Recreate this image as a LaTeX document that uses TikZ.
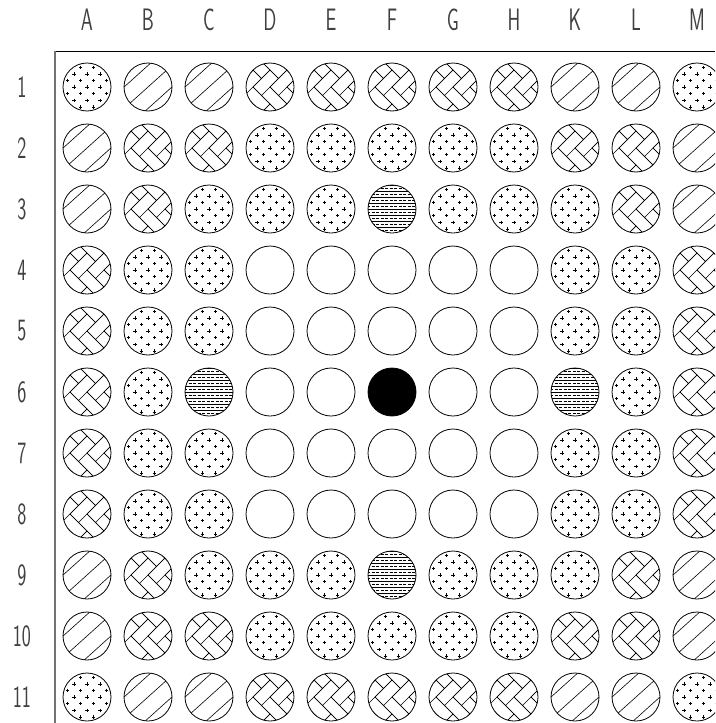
\documentclass[tikz,border=0pt]{standalone}
\usepackage{fontspec}
\usepackage{tikz}

% fill patterns, drawn round the cell centre
\newcommand\patO{}
\newcommand\patF{}
\newcommand\patP{%
	\foreach \m in {-2,0,2} \foreach \n in {-26,-13,0,13,26}
		\draw[line width=0.6pt] (\n-1.7,\m*6.6) -- ++(3.4,0) (\n,\m*6.6-1.7) -- ++(0,3.4);
	\foreach \m in {-3,-1,1,3} \foreach \n in {-19.5,-6.5,6.5,19.5}
		\draw[line width=0.6pt] (\n-1.7,\m*6.6) -- ++(3.4,0) (\n,\m*6.6-1.7) -- ++(0,3.4);}
\newcommand\patH{%
	\begin{scope}[rotate=42]
		\foreach \o in {-16,0,16} \draw[line width=0.6pt] (-30,\o) -- (30,\o);
	\end{scope}}
\newcommand\patW{%
	\begin{scope}[rotate=45, scale=12]
		\foreach \n in {-5,...,4} \foreach \m in {-2,...,2}
			\draw[line width=0.6pt] (\n+2*\m,\n-2*\m) rectangle ++(2,1) (\n+2*\m,\n-2*\m+1) rectangle ++(1,2);
	\end{scope}}
\newcommand\patS{%
	\foreach \k in {-8,-6,...,8} \draw[line width=0.5pt] (-25,3*\k) -- (25,3*\k);
	\foreach \k in {-7,-5,...,7} \draw[line width=0.5pt, dash pattern=on 3pt off 1.5pt] (-25,3*\k) -- (25,3*\k);}

\tikzset{
	lbl/.style={font=\sffamily\fontsize{31}{31}\selectfont, xscale=0.62, text=black!75, inner sep=0pt},
	cell/.style={circle, draw, line width=0.8pt, minimum size=48pt, inner sep=0pt},
	cell O/.style={},
	cell F/.style={fill=black},
	cell P/.style={}, cell H/.style={}, cell W/.style={}, cell S/.style={}
}

\begin{document}
\begin{tikzpicture}[x=1pt,y=-1pt]
	\useasboundingbox (0,0) rectangle (715,723);
	\clip (0,0) rectangle (715,723);
	
	\coordinate (corner) at (55,51);
	\coordinate (right) at (715,51);
	\coordinate (bottom) at (55,723);
	\draw[line width=0.8pt] (corner) -- (right);
	\draw[line width=1.6pt, black!55] (corner) -- (bottom);
	
	\foreach \c [count=\j] in {A,B,C,D,E,F,G,H,K,L,M}
		\node[lbl] (col-\c) at (26+61*\j,20) {\c};
	\foreach \r in {1,...,11}
		\node[lbl] (row-\r) at (22,26+61*\r) {\r};
	
	\foreach \line [count=\i] in {
			{P,H,H,W,W,W,W,W,H,H,P},
			{H,W,W,P,P,P,P,P,W,W,H},
			{H,W,P,P,P,S,P,P,P,W,H},
			{W,P,P,O,O,O,O,O,P,P,W},
			{W,P,P,O,O,O,O,O,P,P,W},
			{W,P,S,O,O,F,O,O,S,P,W},
			{W,P,P,O,O,O,O,O,P,P,W},
			{W,P,P,O,O,O,O,O,P,P,W},
			{H,W,P,P,P,S,P,P,P,W,H},
			{H,W,W,P,P,P,P,P,W,W,H},
			{P,H,H,W,W,W,W,W,H,H,P}}
		\foreach \s [count=\j] in \line {
			\node[cell, cell \s] (cell-\i-\j) at (26+61*\j,26+61*\i) {};
			\begin{scope}
				\clip (cell-\i-\j.center) circle (24);
				\begin{scope}[shift={(cell-\i-\j.center)}]
					\csname pat\s\endcsname
				\end{scope}
			\end{scope}
		}
\end{tikzpicture}
\end{document}
